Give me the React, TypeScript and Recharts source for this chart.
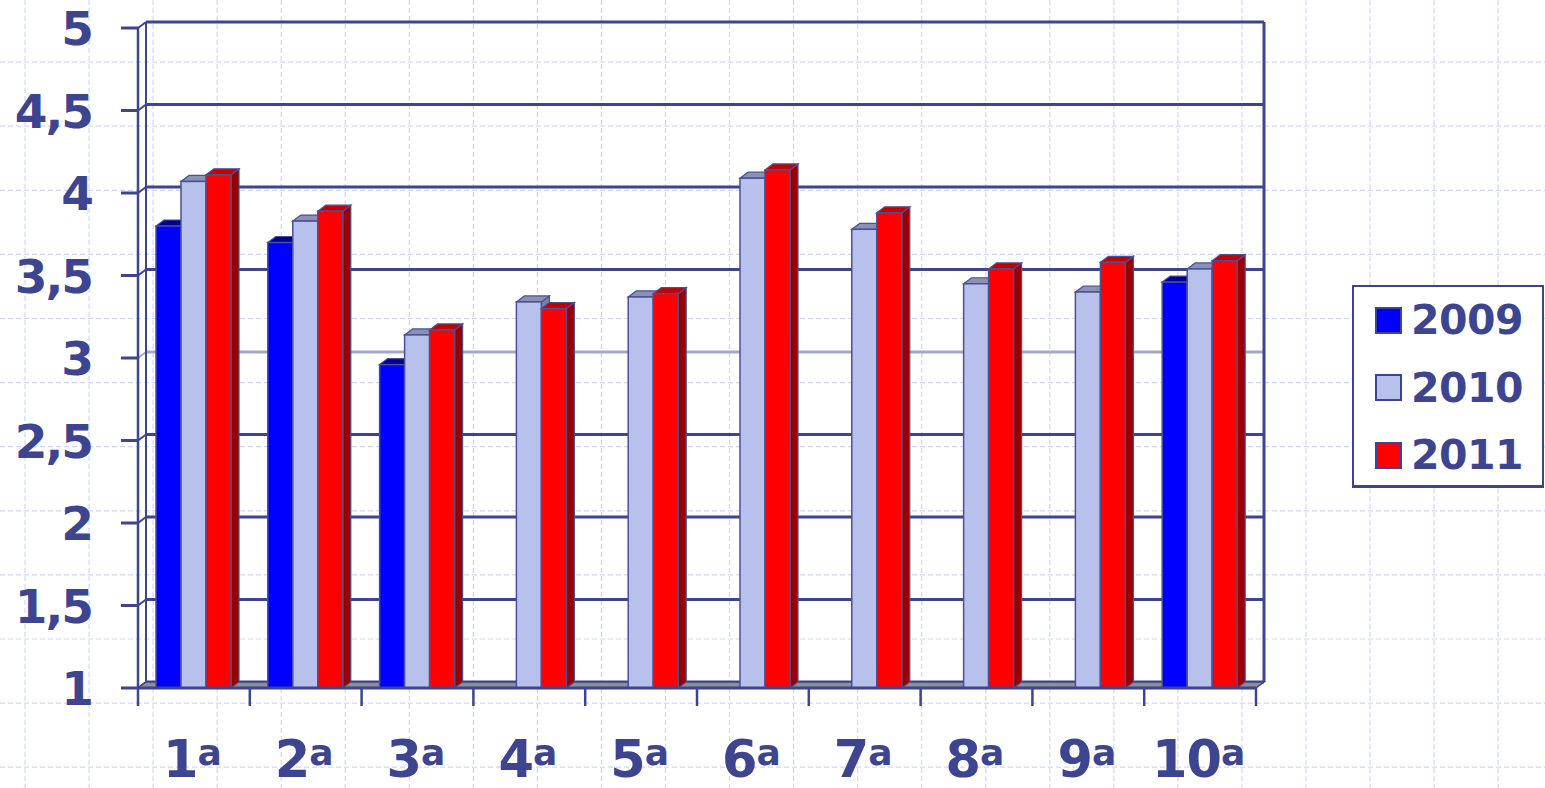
import React from 'react'
import { BarChart, Bar, XAxis, YAxis, CartesianGrid, ReferenceArea } from 'recharts'

// data
const categories = ['1ª', '2ª', '3ª', '4ª', '5ª', '6ª', '7ª', '8ª', '9ª', '10ª']
const values2009 = [3.8, 3.7, 2.96, null, null, null, null, null, null, 3.46]
const values2010 = [4.07, 3.83, 3.14, 3.34, 3.37, 4.09, 3.78, 3.45, 3.4, 3.54]
const values2011 = [4.11, 3.89, 3.17, 3.3, 3.39, 4.14, 3.88, 3.54, 3.58, 3.59]
const yTicks = [1, 1.5, 2, 2.5, 3, 3.5, 4, 4.5, 5]

const series = [
  { key: 'y2009', name: '2009', values: values2009, face: '#0000ff', top: '#000094', side: '#0000a8' },
  { key: 'y2010', name: '2010', values: values2010, face: '#b8c1ec', top: '#8a91b3', side: '#7b82a8' },
  { key: 'y2011', name: '2011', values: values2011, face: '#ff0000', top: '#c40000', side: '#9a0000' },
]

const data = categories.map((name, i) => {
  const row: Record<string, any> = { name }
  series.forEach(s => { row[s.key] = s.values[i] })
  return row
})

const NAVY = '#3d4590'
const EDGE = '#4a5096'
const FONT = '"DejaVu Sans", Verdana, sans-serif'
const DX = 8
const DY = 6

const makeBar3D = (face: string, top: string, side: string) => (props: any) => {
  const { x, y, width, height } = props
  if (props.value == null || !height || height <= 0) return <g />
  const r = x + width
  return (
    <g>
      <polygon
        points={`${r},${y} ${r + DX},${y - DY} ${r + DX},${y + height - DY} ${r},${y + height}`}
        fill={side}
        stroke={EDGE}
        strokeWidth={1.2}
      />
      <polygon
        points={`${x},${y} ${x + DX},${y - DY} ${r + DX},${y - DY} ${r},${y}`}
        fill={top}
        stroke={EDGE}
        strokeWidth={1.2}
      />
      <rect x={x} y={y} width={width} height={height} fill={face} stroke={EDGE} strokeWidth={1.5} />
    </g>
  )
}

// back-wall gridline, shifted into depth, with the little diagonal on the side wall
const GridLine3D = (props: any) => {
  const { x1, y1, x2, index } = props
  let light = index === 4
  if (props.height && props.y != null) {
    light = Math.abs((y1 - props.y) / props.height - 0.5) < 0.01
  }
  const color = light ? '#a3a7cc' : NAVY
  return (
    <g>
      <line x1={x1 + DX} y1={y1 - DY} x2={x2 + DX} y2={y1 - DY} stroke={color} strokeWidth={3} />
      <line x1={x1} y1={y1} x2={x1 + DX} y2={y1 - DY} stroke={color} strokeWidth={2} />
    </g>
  )
}

const Walls = (props: any) => {
  const { x, y, width, height } = props
  const b = y + height
  const r = x + width
  return (
    <g>
      <line x1={x + DX} y1={y - DY} x2={x + DX} y2={b - DY} stroke={NAVY} strokeWidth={2} />
      <line x1={r + DX} y1={y - DY} x2={r + DX} y2={b - DY} stroke={NAVY} strokeWidth={3} />
      <polygon
        points={`${x},${b} ${r},${b} ${r + DX},${b - DY} ${x + DX},${b - DY}`}
        fill="#8f8f8f"
        stroke={NAVY}
        strokeWidth={1.5}
      />
    </g>
  )
}

const YTick = (props: any) => {
  const { x, y, payload } = props
  return (
    <g>
      <line x1={x - 17} y1={y} x2={x} y2={y} stroke={NAVY} strokeWidth={3} />
      <text
        x={x - 46}
        y={y}
        dy={17}
        textAnchor="end"
        fill={NAVY}
        fontFamily={FONT}
        fontWeight="bold"
        fontSize={47}
        letterSpacing={-2}
      >
        {String(payload.value).replace('.', ',')}
      </text>
    </g>
  )
}

const XTick = (props: any) => {
  const { x, y, payload, index } = props
  const half = payload.offset || 56
  const label = String(payload.value)
  const num = label.replace('ª', '')
  return (
    <g>
      <line x1={x - half} y1={y} x2={x - half} y2={y + 18} stroke={NAVY} strokeWidth={2.5} />
      {index === categories.length - 1 && (
        <line x1={x + half} y1={y} x2={x + half} y2={y + 18} stroke={NAVY} strokeWidth={2.5} />
      )}
      <text
        x={x - 2}
        y={y + 89}
        textAnchor="middle"
        fill={NAVY}
        fontFamily={FONT}
        fontWeight="bold"
        fontSize={51}
        letterSpacing={-1}
      >
        <tspan>{num}</tspan>
        <tspan fontSize={36} dy={-12}>a</tspan>
      </text>
    </g>
  )
}

const Backdrop = () => {
  const rows = Array.from({ length: 13 }, (_, k) => -2 + 64.1 * k)
  const cols = Array.from({ length: 25 }, (_, k) => 25 + 64.05 * k)
  return (
    <svg width={1545} height={788} style={{ position: 'absolute', left: 0, top: 0 }}>
      {rows.map(v => (
        <line key={'r' + v} x1={0} y1={v} x2={1545} y2={v} stroke="#cfd7f7" strokeWidth={1.2} strokeDasharray="5 3" />
      ))}
      {cols.map(v => (
        <line key={'c' + v} x1={v} y1={0} x2={v} y2={788} stroke="#cfd7f7" strokeWidth={1.2} strokeDasharray="5 3" />
      ))}
    </svg>
  )
}

const LegendBox = () => (
  <div
    style={{
      position: 'absolute',
      left: 1352,
      top: 285,
      width: 192,
      height: 203,
      boxSizing: 'border-box',
      border: `2px solid ${NAVY}`,
      borderBottomWidth: 3,
      background: '#fff',
    }}
  >
    {series.map((s, i) => (
      <div
        key={s.key}
        style={{ position: 'absolute', left: 21, top: 8 + i * 67.5, height: 50, display: 'flex', alignItems: 'center' }}
      >
        <div style={{ width: 23, height: 23, background: s.face, border: `2px solid ${NAVY}` }} />
        <span
          style={{
            marginLeft: 9,
            fontFamily: FONT,
            fontWeight: 'bold',
            fontSize: 41,
            letterSpacing: -0.5,
            color: NAVY,
            lineHeight: '50px',
          }}
        >
          {s.name}
        </span>
      </div>
    ))}
  </div>
)

export default function App() {
  return (
    <div style={{ position: 'absolute', left: 0, top: 0, width: 1545, height: 788, background: '#fff', overflow: 'hidden' }}>
      <Backdrop />
      <div style={{ position: 'absolute', left: 0, top: 0 }}>
        <BarChart
          width={1545}
          height={788}
          data={data}
          margin={{ top: 28, right: 289, bottom: 0, left: 0 }}
          barGap={0}
          barSize={25}
        >
          <CartesianGrid vertical={false} horizontal={GridLine3D} />
          <ReferenceArea y1={1} y2={5} shape={Walls} zIndex={0} />
          <XAxis
            dataKey="name"
            height={100}
            interval={0}
            tickSize={0}
            tickMargin={0}
            tickLine={false}
            axisLine={{ stroke: NAVY, strokeWidth: 3 }}
            tick={XTick}
          />
          <YAxis
            type="number"
            width={138}
            domain={[1, 5]}
            ticks={yTicks}
            interval={0}
            tickSize={0}
            tickMargin={0}
            tickLine={false}
            axisLine={{ stroke: NAVY, strokeWidth: 2.5 }}
            tick={YTick}
          />
          {series.map(s => (
            <Bar
              key={s.key}
              dataKey={s.key}
              name={s.name}
              fill={s.face}
              shape={makeBar3D(s.face, s.top, s.side)}
              isAnimationActive={false}
            />
          ))}
        </BarChart>
      </div>
      <LegendBox />
    </div>
  )
}
